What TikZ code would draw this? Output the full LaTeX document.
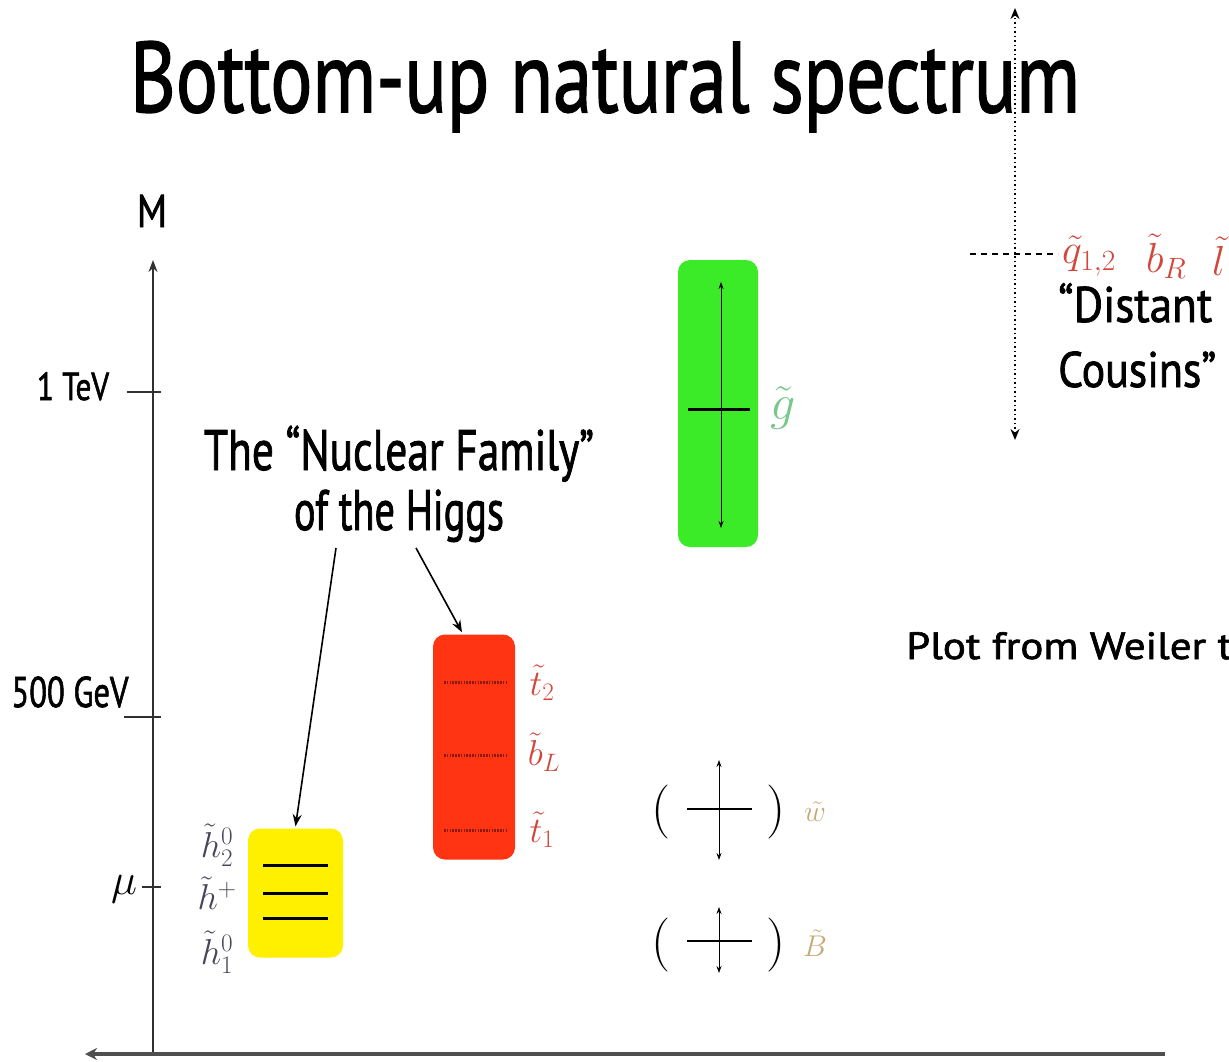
\RequirePackage{fix-cm}
\documentclass[tikz,border=0pt]{standalone}
\usepackage{fontspec}
\usepackage{graphicx}
\newfontfamily\gill{PT Sans}[FakeBold=1.6]
\usetikzlibrary{arrows.meta,calc}
\definecolor{ybox}{HTML}{FFF000}
\definecolor{rbox}{HTML}{FF3412}
\definecolor{gbox}{HTML}{3CEB28}
\definecolor{lred}{HTML}{D2463C}
\definecolor{lgreen}{HTML}{78C88C}
\definecolor{ltan}{HTML}{C8AA78}
\definecolor{lgray}{HTML}{46465A}
\definecolor{axisc}{HTML}{303030}
\definecolor{dred}{HTML}{8A1A10}
\newsavebox\fitbox
\newsavebox\fitmbox
% scale #3 horizontally so that #2 would be #1 pt wide
\newcommand\fitwm[3]{\sbox\fitmbox{#2}\sbox\fitbox{#3}\scalebox{\fpeval{#1/(\the\wd\fitmbox)}}[1]{\usebox\fitbox}}
\newcommand\fitw[2]{\fitwm{#1}{#2}{#2}}
\tikzset{
  x=1pt, y=-1pt,
  txt/.style={font=\gill, inner sep=0pt, text=black},
  mlab/.style={inner sep=0pt},
  box/.style={fill=#1, draw=none, rounded corners=12pt, inner sep=0pt},
  level/.style={line width=3pt, black},
  dlevel/.style={line width=3pt, dred, dash pattern=on 1.6pt off 1.2pt},
  thinarr/.style={line width=0.9pt, {Stealth[length=7pt,width=5pt]}-{Stealth[length=7pt,width=5pt]}},
  ptr/.style={line width=1.6pt, -{Stealth[length=12pt,width=9pt]}},
  tick/.style={line width=1.8pt, axisc},
  paren/.style={inner sep=0pt, font=\fontsize{54}{60}\selectfont},
}
\begin{document}
\begin{tikzpicture}
\useasboundingbox (0,0) rectangle (1229,1061);
\clip (0,0) rectangle (1229,1061);
\fill[white] (0,0) rectangle (1229,1061);

% title
\node[txt, anchor=base, font=\gill\fontsize{100}{110}\selectfont] (title) at (605,112) {\fitw{950}{Bottom-up natural spectrum}};

% axes
\coordinate (O) at (153,1054);
\coordinate (Mtop) at (153,260);
\coordinate (Xr) at (1165,1054);
\coordinate (Xl) at (85,1054);
\draw[line width=1.6pt, axisc, -{Stealth[length=12pt,width=9pt]}] (O) -- (Mtop);
\draw[line width=4pt, axisc!85, -{Stealth[length=12pt,width=12pt]}] (Xr) -- (Xl);
\node[txt, anchor=base, font=\gill\fontsize{46}{50}\selectfont] (M) at (152,227) {\fitw{30}{M}};

% ticks
\coordinate (t1a) at (127,392); \coordinate (t1b) at (161,392);
\draw[tick] (t1a) -- (t1b);
\node[txt, font=\gill\fontsize{39}{44}\selectfont, anchor=base] (tev) at (73,400) {\fitw{72}{1 TeV}};
\coordinate (t2a) at (124,717); \coordinate (t2b) at (161,717);
\draw[tick] (t2a) -- (t2b);
\node[txt, font=\gill\fontsize{43}{46}\selectfont, anchor=base] (gev) at (70,707) {\fitw{117}{500 GeV}};
\coordinate (t3a) at (142,887); \coordinate (t3b) at (161,887);
\draw[tick] (t3a) -- (t3b);
\node[mlab, font=\fontsize{44}{50}\selectfont] (mu) at (124,889) {$\mu$};

% yellow box (higgsinos)
\node[box=ybox, minimum width=95pt, minimum height=129pt] (yb) at (295.5,893) {};
\foreach \yy [count=\i] in {865,893,918} {
  \coordinate (ya\i) at (263,\yy); \coordinate (yb\i) at (328,\yy);
  \draw[level] (ya\i) -- (yb\i);
}
\node[mlab, text=lgray, font=\fontsize{36}{40}\selectfont] (h2) at (217,845) {$\tilde h_2^0$};
\node[mlab, text=lgray, font=\fontsize{36}{40}\selectfont] (hp) at (217,893) {$\tilde h^+$};
\node[mlab, text=lgray, font=\fontsize{36}{40}\selectfont] (h1) at (217,952) {$\tilde h_1^0$};

% red box (stops, sbottom)
\node[box=rbox, minimum width=82pt, minimum height=225pt] (rb) at (474,747) {};
\foreach \yy [count=\i] in {682,755,830} {
  \coordinate (ra\i) at (444,\yy); \coordinate (rbb\i) at (507,\yy);
  \draw[dlevel] (ra\i) -- (rbb\i);
}
\node[mlab, text=lred, font=\fontsize{36}{40}\selectfont] (t2) at (542,683) {$\tilde t_2$};
\node[mlab, text=lred, font=\fontsize{36}{40}\selectfont] (bL) at (544,752) {$\tilde b_L$};
\node[mlab, text=lred, font=\fontsize{36}{40}\selectfont] (t1) at (542,830) {$\tilde t_1$};

% green box (gluino)
\node[box=gbox, minimum width=80pt, minimum height=287pt] (gb) at (718,403.5) {};
\coordinate (ga) at (688,409); \coordinate (gbr) at (750,409);
\draw[level] (ga) -- (gbr);
\coordinate (gt) at (721,282); \coordinate (gbt) at (721,528);
\draw[thinarr] (gt) -- (gbt);
\node[mlab, text=lgreen, font=\fontsize{50}{56}\selectfont] (gl) at (783,408) {$\tilde g$};

% wino
\node[paren] (wl) at (661,812) {(};
\node[paren] (wr) at (776,812) {)};
\coordinate (wa) at (687,809); \coordinate (wb) at (752,809);
\draw[line width=2.4pt] (wa) -- (wb);
\coordinate (wt) at (719,760); \coordinate (wbt) at (719,860);
\draw[thinarr] (wt) -- (wbt);
\node[mlab, text=ltan, font=\fontsize{30}{34}\selectfont] (wn) at (815,812) {$\tilde w$};

% bino
\node[paren] (bl) at (661,945) {(};
\node[paren] (br) at (776,945) {)};
\coordinate (ba) at (687,941); \coordinate (bb) at (752,941);
\draw[line width=2.4pt] (ba) -- (bb);
\coordinate (bt) at (719,907); \coordinate (bbt) at (719,973);
\draw[thinarr] (bt) -- (bbt);
\node[mlab, text=ltan, font=\fontsize{30}{34}\selectfont] (bn) at (815,943) {$\tilde B$};

% nuclear family text
\node[txt, anchor=base, font=\gill\fontsize{57}{62}\selectfont] (nf1) at (399,470) {\fitw{390}{The “Nuclear Family”}};
\node[txt, anchor=base, font=\gill\fontsize{57}{62}\selectfont] (nf2) at (399,530) {\fitw{210}{of the Higgs}};
\coordinate (p1s) at (336,548);
\coordinate (p2s) at (416,548);
\draw[ptr] (p1s) -- ($(yb.north)+(0,-2)$);
\draw[ptr] (p2s) -- ($(rb.north)+(-12,-2)$);

% distant cousins
\coordinate (dt) at (1015,8);
\coordinate (db) at (1015,440);
\draw[line width=1.8pt, dash pattern=on 1.5pt off 3pt, {Stealth[length=11pt,width=9pt]}-{Stealth[length=11pt,width=9pt]}] (db) -- (dt);
\coordinate (da) at (970,254); \coordinate (dbb) at (1058,254);
\draw[line width=1.8pt, dash pattern=on 6pt off 5pt] (da) -- (dbb);
\node[mlab, text=lred, font=\fontsize{42}{46}\selectfont, anchor=west] (sq) at (1062,256) {$\tilde q_{1,2}$};
\node[mlab, text=lred, font=\fontsize{42}{46}\selectfont, anchor=west] (sb) at (1146,256) {$\tilde b_R$};
\node[mlab, text=lred, font=\fontsize{42}{46}\selectfont, anchor=west] (sl) at (1212,256) {$\tilde l$};
\node[txt, anchor=base west, font=\gill\fontsize{50}{54}\selectfont] (dc1) at (1058,322) {\fitw{154}{“Distant}};
\node[txt, anchor=base west, font=\gill\fontsize{50}{54}\selectfont] (dc2) at (1058,387) {\fitw{158}{Cousins”}};

% note
\node[txt, anchor=base west, font=\gill\fontsize{38}{44}\selectfont] (note) at (906,659) {\fitwm{300}{Plot from Weiler}{Plot from Weiler talk}};
\end{tikzpicture}
\end{document}
